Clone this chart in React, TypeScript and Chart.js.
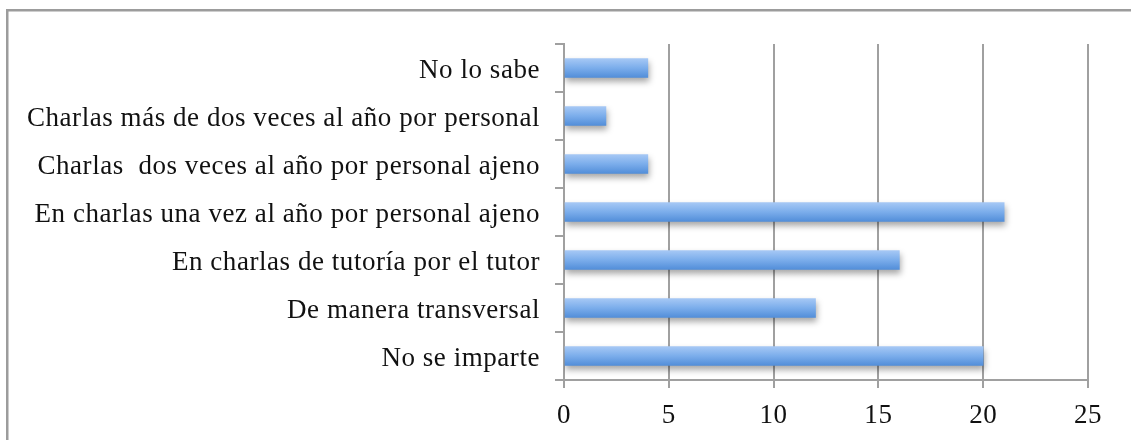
import React, { useEffect, useRef } from 'react';
import { Chart, registerables } from 'chart.js';

Chart.register(...registerables);

const categories = [
  'No lo sabe',
  'Charlas más de dos veces al año por personal',
  'Charlas  dos veces al año por personal ajeno',
  'En charlas una vez al año por personal ajeno',
  'En charlas de tutoría por el tutor',
  'De manera transversal',
  'No se imparte',
];
const values = [4, 2, 4, 21, 16, 12, 20];
const xMin = 0;
const xMax = 25;
const xStep = 5;

const FONT = { family: '"Liberation Serif", "Times New Roman", serif', size: 27 };
const GRID = '#a0a0a0';
const SPACING = '0.55px';

const framePlugin = {
  id: 'frame',
  beforeInit(chart: any) {
    chart.ctx.letterSpacing = SPACING;
  },
  beforeDraw(chart: any) {
    const ctx = chart.ctx;
    ctx.letterSpacing = SPACING;
    ctx.save();
    ctx.fillStyle = '#ffffff';
    ctx.fillRect(0, 0, chart.width, chart.height);
    ctx.fillStyle = '#9c9c9c';
    ctx.fillRect(6, 9, 2.5, chart.height - 9);
    ctx.fillRect(6, 9, chart.width - 6, 2.5);
    ctx.restore();
  },
};

const shadowPlugin = {
  id: 'barShadow',
  beforeDatasetDraw(chart: any) {
    const ctx = chart.ctx;
    ctx.save();
    ctx.shadowColor = 'rgba(0,0,0,0.35)';
    ctx.shadowBlur = 6;
    ctx.shadowOffsetX = 1;
    ctx.shadowOffsetY = 4;
  },
  afterDatasetDraw(chart: any) {
    chart.ctx.restore();
  },
};

export default function App() {
  const ref = useRef<HTMLCanvasElement | null>(null);

  useEffect(() => {
    if (!ref.current) return;
    const chart = new Chart(ref.current, {
      type: 'bar',
      data: {
        labels: categories,
        datasets: [
          {
            data: values,
            barThickness: 19,
            borderWidth: 0,
            backgroundColor: (c: any) => {
              const ch = c.chart;
              const ys = ch.scales && ch.scales.y;
              if (!ys || c.dataIndex === undefined) return '#7aaae8';
              const yc = ys.getPixelForValue(c.dataIndex);
              if (!Number.isFinite(yc)) return '#7aaae8';
              const g = ch.ctx.createLinearGradient(0, yc - 9.5, 0, yc + 9.5);
              g.addColorStop(0, '#a6c8f5');
              g.addColorStop(0.5, '#7badeb');
              g.addColorStop(1, '#528ed9');
              return g;
            },
          },
        ],
      },
      options: {
        indexAxis: 'y',
        animation: false,
        responsive: false,
        devicePixelRatio: 1,
        layout: { padding: { top: 44, right: 43, bottom: 0, left: 0 } },
        plugins: {
          legend: { display: false },
          title: { display: false },
          tooltip: { enabled: false },
        },
        scales: {
          y: {
            type: 'category',
            offset: true,
            grid: {
              offset: true,
              drawOnChartArea: false,
              drawTicks: true,
              tickLength: 9,
              color: GRID,
              lineWidth: 2,
            },
            border: { display: true, color: GRID, width: 2 },
            ticks: { font: FONT, color: '#111', padding: 15, autoSkip: false, labelOffset: 3 },
            afterFit(scale: any) {
              scale.width = 564;
            },
          },
          x: {
            type: 'linear',
            min: xMin,
            max: xMax,
            ticks: { stepSize: xStep, font: FONT, color: '#111', padding: 12 },
            grid: { color: GRID, lineWidth: 2, tickLength: 8, drawTicks: true },
            border: { display: true, color: GRID, width: 2 },
            afterFit(scale: any) {
              scale.height = 60;
            },
          },
        },
      },
      plugins: [framePlugin, shadowPlugin],
    });
    return () => chart.destroy();
  }, []);

  return (
    <div style={{ position: 'absolute', left: 0, top: 0, width: 1131, height: 440 }}>
      <canvas ref={ref} width={1131} height={440} style={{ display: 'block' }} />
    </div>
  );
}
